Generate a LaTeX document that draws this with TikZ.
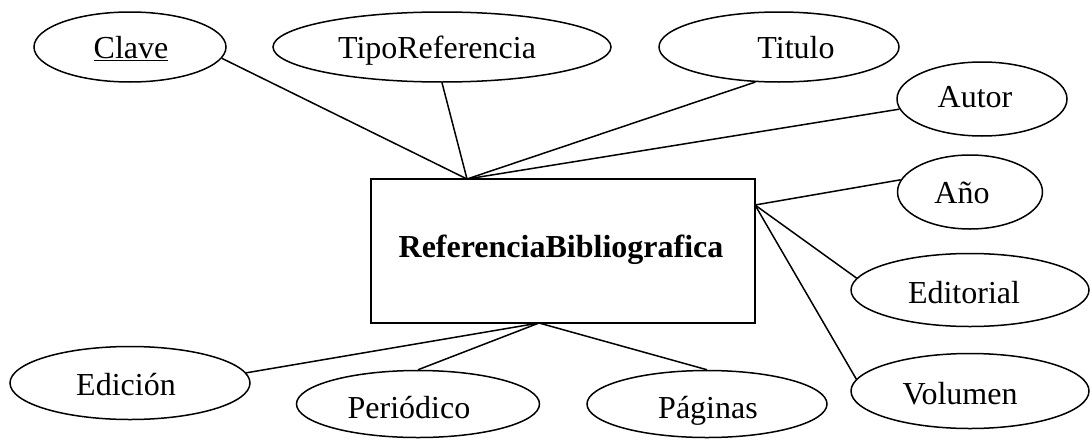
\documentclass[tikz,border=0pt]{standalone}
\usepackage{fontspec}
\setmainfont{Liberation Serif}
\usetikzlibrary{shapes.geometric}
\begin{document}
\begin{tikzpicture}[x=1pt,y=-1pt,line width=1.5pt,
  attr/.style 2 args={draw,ellipse,inner sep=0pt,minimum width=#1,minimum height=#2},
  entity/.style={draw,rectangle,inner sep=0pt,minimum width=384pt,minimum height=144pt},
  lbl/.style={anchor=base,inner sep=0pt,font=\fontsize{32}{38}\selectfont},
  conn/.style={line width=1.5pt}]
\useasboundingbox (0,0) rectangle (1091,439);
% entity
\node[entity] (ent) at (563,251) {};
\node[lbl,font=\fontsize{32}{38}\selectfont\bfseries] (entT) at (561,257) {ReferenciaBibliografica};
\coordinate (ptop) at (467,179);
\coordinate (pright) at (755,205);
\coordinate (pbot) at (539,323);
% attributes
\node[attr={192pt}{70pt}] (clave) at (130,47) {};
\node[lbl] (claveT) at (131,58) {\underline{Clave}};
\node[attr={338pt}{70pt}] (tipo) at (442,47) {};
\node[lbl] (tipoT) at (437,58) {TipoReferencia};
\node[attr={240pt}{70pt}] (titulo) at (779,47) {};
\node[lbl] (tituloT) at (796,58) {Titulo};
\node[attr={170pt}{74pt}] (autor) at (982,99) {};
\node[lbl] (autorT) at (975,107) {Autor};
\node[attr={145pt}{74pt}] (anio) at (970,192) {};
\node[lbl] (anioT) at (962,203) {Año};
\node[attr={238pt}{73pt}] (edit) at (970,290) {};
\node[lbl] (editT) at (964,303) {Editorial};
\node[attr={238pt}{75pt}] (vol) at (970,391) {};
\node[lbl] (volT) at (960,404) {Volumen};
\node[attr={240pt}{67pt}] (pag) at (707,404) {};
\node[lbl] (pagT) at (708,418) {Páginas};
\node[attr={243pt}{67pt}] (per) at (418,404) {};
\node[lbl] (perT) at (409,418) {Periódico};
\node[attr={240pt}{73pt}] (edic) at (130,383) {};
\node[lbl] (edicT) at (126,395) {Edición};
% connectors
\draw[conn] (clave.-7) -- (ptop);
\draw[conn] (tipo.south) -- (ptop);
\draw[conn] (titulo.-124) -- (ptop);
\draw[conn] (autor.187) -- (ptop);
\draw[conn] (anio.170) -- (pright);
\draw[conn] (edit.174) -- (pright);
\draw[conn] (vol.174) -- (pright);
\draw[conn] (pag.north) -- (pbot);
\draw[conn] (per.north) -- (pbot);
\draw[conn] (edic.5) -- (pbot);
\end{tikzpicture}
\end{document}
